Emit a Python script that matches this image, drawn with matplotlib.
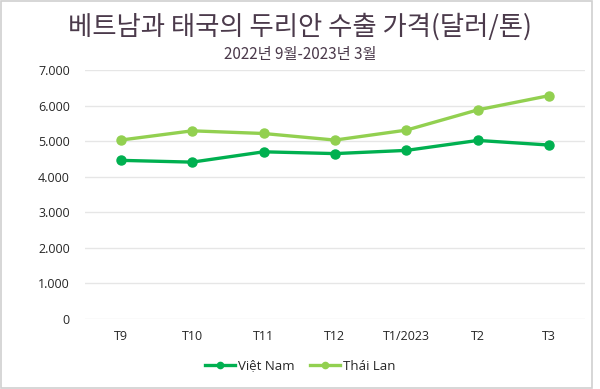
import numpy as np
import matplotlib
matplotlib.use('Agg')
import matplotlib.pyplot as plt
from matplotlib.ticker import FuncFormatter
from matplotlib.lines import Line2D

# data
months = ['T9', 'T10', 'T11', 'T12', 'T1/2023', 'T2', 'T3']
vietnam = [4460, 4410, 4700, 4650, 4740, 5020, 4890]
thailand = [5030, 5290, 5215, 5030, 5310, 5880, 6280]

title = '베트남과 태국의 두리안 수출 가격(달러/톤)'
subtitle = '2022년 9월-2023년 3월'

fig = plt.figure(figsize=(6, 3.89), dpi=100)
fig.patch.set_facecolor('white')
ax = fig.add_axes([85/600, 1-319/389, 500/600, 249/389])

x = np.arange(len(months))
ax.plot(x, vietnam, color='#00b050', lw=2.4, marker='o', ms=6.5, label='Việt Nam')
ax.plot(x, thailand, color='#92d050', lw=2.4, marker='o', ms=6.5, label='Thái Lan')

ax.set_xlim(-0.5, len(months) - 0.5)
ax.set_ylim(0, 7000)
ax.set_yticks(np.arange(0, 7001, 1000))
ax.yaxis.set_major_formatter(FuncFormatter(lambda v, p: '0' if v == 0 else f'{v/1000:.3f}'))
ax.set_xticks(x)
ax.set_xticklabels(months)
ax.grid(axis='y', color='#e6e6e6', lw=1)
ax.set_axisbelow(True)
for s in ax.spines.values():
    s.set_visible(False)
ax.tick_params(length=0, labelsize=9, labelcolor='#262626', pad=8)
ax.tick_params(axis='y', pad=11)
for t in ax.get_xticklabels() + ax.get_yticklabels():
    t.set_family(['Open Sans', 'DejaVu Sans'])

fig.text(0.5, 1-27/389, title, ha='center', va='center', fontsize=19,
         color='#4b3a4b', family=['Noto Sans CJK KR', 'DejaVu Sans'])
fig.text(0.5, 1-55/389, subtitle, ha='center', va='center', fontsize=11,
         color='#4b3a4b', family=['Noto Sans CJK KR', 'DejaVu Sans'])

handles = [Line2D([], [], color='#00b050', lw=2.4, marker='o', ms=4.5),
           Line2D([], [], color='#92d050', lw=2.4, marker='o', ms=4.5)]
leg = fig.legend(handles, ['Việt Nam', 'Thái Lan'], loc='center',
                 bbox_to_anchor=(0.5, 1-366/389), ncol=2, frameon=False,
                 prop={'family': 'Open Sans', 'size': 9.5}, handlelength=2.3,
                 columnspacing=1.2, handletextpad=0.2)
for t in leg.get_texts():
    t.set_color('#262626')

# light frame like the screenshot
fig.add_artist(plt.Rectangle((0.002, 0.003), 0.985, 0.994, transform=fig.transFigure,
                             fill=False, ec='#d0d0d0', lw=1.2))

fig.savefig('out.png', dpi=100)
